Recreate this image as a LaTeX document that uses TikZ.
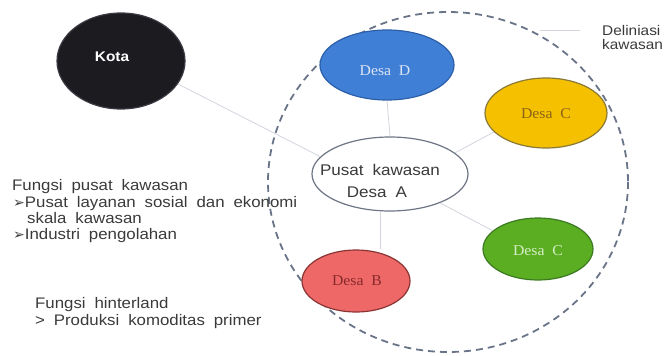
\documentclass[tikz,border=0pt]{standalone}
\usepackage{fontspec}
\setmainfont{Liberation Sans}[FakeStretch=1.1, WordSpace=1.9]
\newfontfamily\desafont{Liberation Serif}[FakeStretch=1.05, WordSpace=2]
\newfontfamily\symfont{DejaVu Sans}
\usetikzlibrary{shapes.geometric}
\definecolor{txtgray}{HTML}{3A3A3A}
\definecolor{conn}{HTML}{D2D5DC}
\definecolor{dashc}{HTML}{6A7488}
\definecolor{kotafill}{HTML}{1B1B20}
\definecolor{kotaline}{HTML}{3A3A44}
\definecolor{dfill}{HTML}{3F7FD6}
\definecolor{dline}{HTML}{2C5FA8}
\definecolor{dtext}{HTML}{DCE4F2}
\definecolor{yfill}{HTML}{F5C000}
\definecolor{yline}{HTML}{8A7A38}
\definecolor{ytext}{HTML}{8A6418}
\definecolor{gfill}{HTML}{5BAE22}
\definecolor{gline}{HTML}{3C7A22}
\definecolor{gtext}{HTML}{D6EEC6}
\definecolor{rfill}{HTML}{EE6868}
\definecolor{rline}{HTML}{8A3434}
\definecolor{rtext}{HTML}{8A2A2A}
\definecolor{pline}{HTML}{6E7584}
\tikzset{
  blob/.style={ellipse, draw, line width=1.2pt, inner sep=0pt},
  desatxt/.style={font=\desafont\fontsize{15}{17}\selectfont},
  linetxt/.style={anchor=base west, inner sep=0pt, text=txtgray, font=\fontsize{15.3}{17}\selectfont},
  conline/.style={draw=conn, line width=0.8pt},
}
\newcommand{\bulletarrow}{{\symfont\fontsize{14}{15}\selectfont ➢}}
\begin{document}
\begin{tikzpicture}[x=1pt, y=-1pt]
\useasboundingbox (0,0) rectangle (667,356);
% delineation
\draw[dashc, line width=1.8pt, dash pattern=on 7pt off 5pt] (448,182) ellipse [x radius=180, y radius=170];
\coordinate (leadA) at (540,30);
\coordinate (leadB) at (580,30);
\draw[conline] (leadA) -- (leadB);
\node[linetxt, font=\fontsize{14}{15}\selectfont] (deli1) at (602,35) {Deliniasi};
\node[linetxt, font=\fontsize{14}{15}\selectfont] (deli2) at (602,49) {kawasan};
% nodes
\node[blob, fill=kotafill, draw=kotaline, minimum width=128pt, minimum height=96pt] (kota) at (121,61) {};
\node[blob, fill=dfill, draw=dline, minimum width=134pt, minimum height=70pt] (desaD) at (387,65) {};
\node[blob, fill=yfill, draw=yline, minimum width=122pt, minimum height=70pt] (desaCy) at (546,113) {};
\node[blob, fill=white, draw=pline, minimum width=156pt, minimum height=74pt] (pusat) at (390,174) {};
\node[blob, fill=gfill, draw=gline, minimum width=110pt, minimum height=62pt] (desaCg) at (538,249) {};
\node[blob, fill=rfill, draw=rline, minimum width=108pt, minimum height=62pt] (desaB) at (356,281) {};
% connectors
\draw[conline] (kota.-22) -- (pusat.166);
\draw[conline] (desaD.south) -- (pusat.north);
\draw[conline] (desaCy.-160) -- (pusat.18);
\draw[conline] (pusat.-30) -- (desaCg.158);
\draw[conline] (pusat.-104) -- (desaB.north -| pusat.-104);
% labels inside
\node[text=white, font=\bfseries\fontsize{14}{16}\selectfont] (kotatxt) at (112,57) {Kota};
\node[desatxt, text=dtext] (dtxt) at (385,71) {Desa D};
\node[desatxt, text=ytext] (ytxt) at (546,114) {Desa C};
\node[desatxt, text=gtext] (gtxt) at (538,251) {Desa C};
\node[desatxt, text=rtext] (rtxt) at (357,281) {Desa B};
\node[anchor=base, inner sep=0pt, text=txtgray, font=\fontsize{15.5}{17}\selectfont] (p1) at (380,175) {Pusat kawasan};
\node[anchor=base, inner sep=0pt, text=txtgray, font=\fontsize{15.5}{17}\selectfont] (p2) at (377,197) {Desa A};
% left text
\node[linetxt] (f1) at (12,190) {Fungsi pusat kawasan};
\node[linetxt] (f2) at (13,207) {\bulletarrow Pusat layanan sosial dan ekonomi};
\node[linetxt] (f3) at (27,223) {skala kawasan};
\node[linetxt] (f4) at (13,239) {\bulletarrow Industri pengolahan};
\node[linetxt] (h1) at (35,308) {Fungsi hinterland};
\node[linetxt] (h2) at (35,325) {> Produksi komoditas primer};
\end{tikzpicture}
\end{document}
